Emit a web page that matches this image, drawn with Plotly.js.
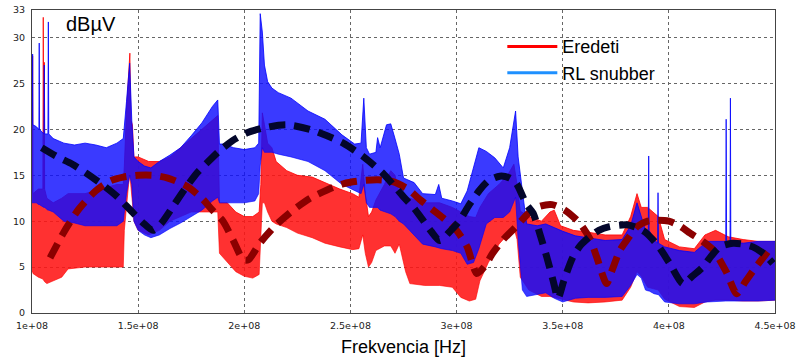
<!DOCTYPE html>
<html>
<head>
<meta charset="utf-8">
<script src="https://cdn.plot.ly/plotly-3.0.1.min.js"></script>
<style>
  html, body { margin: 0; padding: 0; background: #fff; }
  #chart { width: 798px; height: 362px; }
</style>
</head>
<body>
<div id="chart"></div>
<script>
// Conducted emission spectrum, frequency in MHz, level in dBµV.
// Each measured trace is stored as its upper and lower envelope.

// "Eredeti" (original circuit)
const redF  = [100, 100.15, 100.3, 100.45, 103, 105.1, 105.3, 105.5, 105.65, 105.8, 105.95, 107, 110, 114, 117, 125, 133, 140, 143, 143.5, 144.5, 145.5, 146.1, 146.6, 147.3, 148, 150, 155, 160, 165, 170, 175, 180, 185, 187.5, 188.3, 192, 196, 200, 204, 207, 207.8, 208.5, 209.5, 211, 213, 215, 220, 225, 232, 238, 245, 251, 254, 255.8, 257, 258.5, 260, 262, 266, 269, 271, 273, 276, 278, 285, 292, 298, 302, 306, 309, 311, 315, 320, 324, 327, 328.5, 330, 334, 340, 344, 346, 349, 355, 362, 370, 378, 382, 385, 387, 390, 395, 398, 405, 412, 417, 422, 428, 435, 442, 450];
const redHi = [13, 13, 28.0, 13, 13.5, 13.5, 32.2, 13.5, 13.5, 27.3, 13.5, 12.5, 12, 12.5, 13, 13, 13.5, 14, 14, 16, 22, 27, 28.3, 21, 20.5, 17, 17, 16.5, 16.5, 17, 18, 19, 20, 21, 21.5, 12, 12, 11, 10.5, 10.5, 11, 14, 21.8, 20.5, 18.5, 18, 16.5, 15.5, 15, 14.8, 14.2, 13.5, 13, 12.6, 16.2, 13, 10.5, 11, 12.3, 14, 15.5, 15, 13, 12.5, 12.5, 12, 12, 11.5, 11, 10.5, 10.4, 11.5, 13, 14, 15, 16.2, 14, 11.1, 10.5, 10, 11, 11.2, 9.5, 9, 8.8, 8.5, 8.5, 10.5, 13, 11.5, 11.5, 10.5, 8, 7.2, 7, 8.5, 9, 8.3, 8, 7.8, 7.8];
const redLo = [4.5, 4.5, 4.5, 4.3, 3.9, 3.7, 3.6, 3.5, 3.5, 3.4, 3.4, 3.2, 3.5, 3.9, 4.8, 5.0, 5.0, 5.0, 5.0, 9, 12, 14, 15, 14, 12, 10, 9, 8.5, 9, 10, 10.5, 11, 11, 11, 11, 6.5, 5.5, 4.5, 4.0, 3.8, 4.2, 8, 12, 12, 11, 10, 9.7, 9.3, 8.7, 8.2, 7.6, 7.2, 6.9, 7.0, 8.5, 6.5, 5.0, 5.5, 6.8, 7.3, 7.3, 6.5, 7.5, 4.5, 3.2, 3.0, 3.0, 2.8, 1.7, 1.3, 1.5, 3.5, 5.5, 7.5, 8.5, 9.3, 8, 3.9, 2.5, 1.8, 1.8, 1.7, 1.5, 1.2, 1.1, 1.2, 1.4, 2.8, 4.5, 4.0, 2.8, 2.5, 1.5, 0.7, 0.6, 1.2, 1.4, 1.4, 1.3, 1.3, 1.4];

// "RL snubber"
const blueF  = [100, 100.15, 100.3, 100.45, 102, 103.25, 103.4, 103.55, 105.6, 105.8, 106.0, 107.5, 107.7, 107.9, 110, 115, 120, 125, 130, 135, 140, 143, 144.5, 146, 147, 148, 150, 153, 156, 160, 165, 170, 175, 180, 185, 187.5, 188.3, 190, 195, 200, 205, 206.8, 207.5, 208.5, 209.5, 211, 213, 216, 222, 230, 238, 246, 252, 255, 256.3, 257.5, 259, 262, 262.8, 264, 267, 269, 271, 273, 275, 280, 284, 290, 291.6, 293, 298, 302, 305, 308, 310.5, 314, 318, 322, 325, 327.8, 329, 331, 333, 338, 342, 346, 350, 356, 362, 370, 378, 382, 385, 387, 389, 390.3, 390.5, 390.7, 393, 394.7, 394.9, 395.1, 398, 405, 412, 418, 426.8, 427, 427.2, 428.8, 429, 429.2, 435, 442, 450];
const blueHi = [20.5, 20.5, 28.2, 20.5, 20.3, 20, 29.4, 20, 19.5, 27.0, 19.5, 19.5, 31.7, 19.5, 19, 18.5, 18.3, 18.5, 18.3, 18, 18.5, 19, 23, 27.2, 21, 17, 16.5, 16, 15.8, 16.5, 17.2, 18, 19.3, 20.7, 22.5, 23.2, 18.4, 18.4, 18, 17.8, 18, 18.5, 32.6, 30.6, 27, 25.2, 24.5, 24, 23.4, 22, 21.1, 19.4, 18.4, 18.5, 23.4, 18, 17.3, 17.5, 19.1, 18, 20.5, 20.6, 19, 17.3, 14.7, 14.2, 13, 12.9, 14, 12.5, 12.2, 11.9, 13.3, 16, 18, 17.6, 16.9, 15.8, 18, 22, 17, 13.3, 9.7, 9.5, 9.7, 9.3, 8.9, 8.4, 8.2, 7.9, 8.0, 9.5, 12, 10.5, 9, 9, 17.1, 9, 8, 7.6, 13.1, 7.6, 7.2, 6.8, 6.6, 7.8, 7.8, 21.1, 7.8, 7.8, 23.4, 7.8, 7.6, 7.8, 7.8];
const blueLo = [12, 12, 12, 12, 12, 11.8, 11.8, 11.8, 11.5, 11.5, 11.5, 11.2, 11.2, 11.2, 11, 10, 9.8, 9.5, 9.5, 9.5, 9.5, 10, 13, 15, 14, 10, 9, 8.5, 8.2, 8.5, 9.2, 9.8, 10.5, 11.2, 12.2, 12.6, 12, 12, 12, 12, 12.2, 13, 16, 18, 17.5, 17.5, 17.5, 17.3, 17, 16.5, 15.5, 14, 13.3, 13, 14, 12, 11.5, 11.5, 11.5, 11.2, 11, 10.8, 10.5, 10, 9.7, 8.5, 7.5, 7.2, 7.1, 7, 6.8, 6.5, 5.3, 5.5, 7, 9.7, 10.4, 10.4, 11, 12.6, 8, 2.5, 1.8, 2.0, 2.2, 1.6, 1.2, 1.6, 1.7, 1.7, 1.8, 3, 4.2, 3.8, 2.5, 2.4, 2.4, 2.4, 2.1, 2, 2, 2, 1.2, 1.0, 1.0, 1.2, 1.3, 1.3, 1.3, 1.3, 1.3, 1.3, 1.3, 1.3, 1.4];

// Dashed trend curves drawn over the spectra
const redTrendF = [108.5, 115, 122, 130, 137, 143, 150, 157, 164, 173, 180, 185, 190, 195, 199.5, 202, 207.3, 215, 223, 231, 239, 247, 255, 263, 270, 277, 283, 289, 295, 300, 305, 309.5, 313, 317, 322, 328, 334, 339, 345, 351, 358, 363, 366, 370.7, 373, 377, 381, 385, 390, 395, 400, 405, 410, 416, 421, 427, 432, 436, 440, 445, 449];
const redTrendV = [6.0, 8.8, 11.3, 13.3, 14.4, 14.8, 15.0, 15.0, 14.7, 13.8, 12.5, 11.2, 10.0, 7.8, 5.8, 5.8, 7.6, 9.6, 11.2, 12.5, 13.4, 14.1, 14.4, 14.5, 14.3, 13.5, 12.3, 11.2, 10.1, 9.0, 7.2, 4.3, 5.0, 6.5, 8.0, 9.4, 10.9, 11.6, 11.8, 11.2, 9.8, 8.0, 6.1, 3.2, 4.5, 6.85, 8.2, 9.4, 10.0, 10.1, 10.0, 9.5, 8.7, 7.8, 6.85, 4.5, 2.1, 3.4, 4.7, 6.2, 7.4];
const navyTrendF = [104.6, 112, 119, 125.7, 133, 140, 146, 152.4, 157, 161, 166.4, 172, 177.5, 182.2, 188, 194, 201, 210, 220, 230.9, 239, 246.6, 256, 265.4, 270, 274.8, 280, 284.2, 288, 292, 296.5, 301.5, 306, 310.9, 315, 320.3, 325, 328.2, 333, 336, 339, 342.5, 345.5, 347.8, 350.5, 354.8, 358.5, 362.7, 367, 372, 380, 385, 389.4, 395, 400.4, 406.6, 411, 416, 420, 424, 430.2, 435, 439.6, 445, 449];
const navyTrendV = [18.0, 17.0, 16.2, 15.2, 14.0, 12.7, 11.3, 9.8, 9.0, 9.8, 11.6, 13.5, 15.2, 16.3, 17.6, 18.7, 19.6, 20.2, 20.5, 20.0, 19.3, 18.5, 17.05, 15.2, 14.0, 12.7, 11.4, 10.1, 8.9, 7.9, 8.8, 10.1, 11.8, 13.4, 14.4, 14.9, 14.7, 14.1, 11.8, 10.9, 8.8, 6.1, 3.5, 1.6, 3.5, 6.1, 7.4, 8.3, 9.0, 9.4, 9.6, 9.3, 8.7, 7.3, 5.4, 3.2, 4.0, 5.0, 6.2, 7.2, 7.6, 7.5, 7.2, 6.4, 5.4];

// Axis ticks
const xTickVals = [1e8, 1.5e8, 2e8, 2.5e8, 3e8, 3.5e8, 4e8, 4.5e8];
const xTickText = ['1e+08', '1.5e+08', '2e+08', '2.5e+08', '3e+08', '3.5e+08', '4e+08', '4.5e+08'];
const yTickVals = [0, 5, 10, 15, 20, 25, 30, 33];

const hz = arr => arr.map(f => f * 1e6);

// Filled band between the lower and upper envelope of one sweep
function band(F, lo, hi, lineColor, fillColor) {
  return [
    { x: hz(F), y: lo, mode: 'lines', line: { color: lineColor, width: 0.6 },
      showlegend: false, hoverinfo: 'skip' },
    { x: hz(F), y: hi, mode: 'lines', fill: 'tonexty', fillcolor: fillColor,
      line: { color: lineColor, width: 0.8 }, showlegend: false, hoverinfo: 'skip' }
  ];
}

const traces = [
  ...band(redF, redLo, redHi, 'rgb(255,0,0)', 'rgba(255,20,20,0.88)'),
  ...band(blueF, blueLo, blueHi, 'rgb(0,0,255)', 'rgba(15,15,255,0.82)'),
  { x: hz(redTrendF), y: redTrendV, mode: 'lines',
    line: { color: '#8b0000', width: 7, dash: '16px,9px', shape: 'spline', smoothing: 0.7 },
    showlegend: false, hoverinfo: 'skip' },
  { x: hz(navyTrendF), y: navyTrendV, mode: 'lines',
    line: { color: '#03062b', width: 7, dash: '16px,9px', shape: 'spline', smoothing: 0.7 },
    showlegend: false, hoverinfo: 'skip' },
  // legend entries
  { x: [null], y: [null], mode: 'lines', name: 'Eredeti', line: { color: '#ff0000', width: 3 } },
  { x: [null], y: [null], mode: 'lines', name: 'RL snubber', line: { color: '#1e90ff', width: 3 } }
];

const axisCommon = {
  showline: true, mirror: true, linecolor: '#444', linewidth: 1,
  showgrid: true, gridcolor: '#666', griddash: 'dot', gridwidth: 1,
  zeroline: false, ticks: '',
  tickfont: { family: 'DejaVu Sans, Verdana, sans-serif', size: 9.5, color: '#222' }
};

const layout = {
  width: 798, height: 362,
  margin: { l: 32, r: 23, t: 10, b: 49 },
  paper_bgcolor: '#fff', plot_bgcolor: '#fff',
  showlegend: true,
  legend: {
    x: 0.633, y: 0.94, xanchor: 'left', yanchor: 'top', traceorder: 'normal',
    bgcolor: 'rgba(0,0,0,0)', borderwidth: 0,
    font: { family: 'Liberation Sans, Arial, sans-serif', size: 18, color: '#000' },
    itemwidth: 50
  },
  xaxis: Object.assign({}, axisCommon, {
    range: [1e8, 4.5e8], tickmode: 'array', tickvals: xTickVals, ticktext: xTickText,
    ticklabelstandoff: 4,
    title: { text: 'Frekvencia [Hz]', standoff: 9,
      font: { family: 'Liberation Sans, Arial, sans-serif', size: 18, color: '#000' } }
  }),
  yaxis: Object.assign({}, axisCommon, {
    range: [0, 33], tickmode: 'array', tickvals: yTickVals,
    ticklabelstandoff: 4
  }),
  annotations: [{
    text: 'dBµV', xref: 'paper', yref: 'paper', x: 0.043, y: 0.955,
    xanchor: 'left', yanchor: 'middle', showarrow: false,
    font: { family: 'Liberation Sans, Arial, sans-serif', size: 20, color: '#000' }
  }]
};

Plotly.newPlot('chart', traces, layout, { staticPlot: true, displayModeBar: false });
</script>
</body>
</html>
